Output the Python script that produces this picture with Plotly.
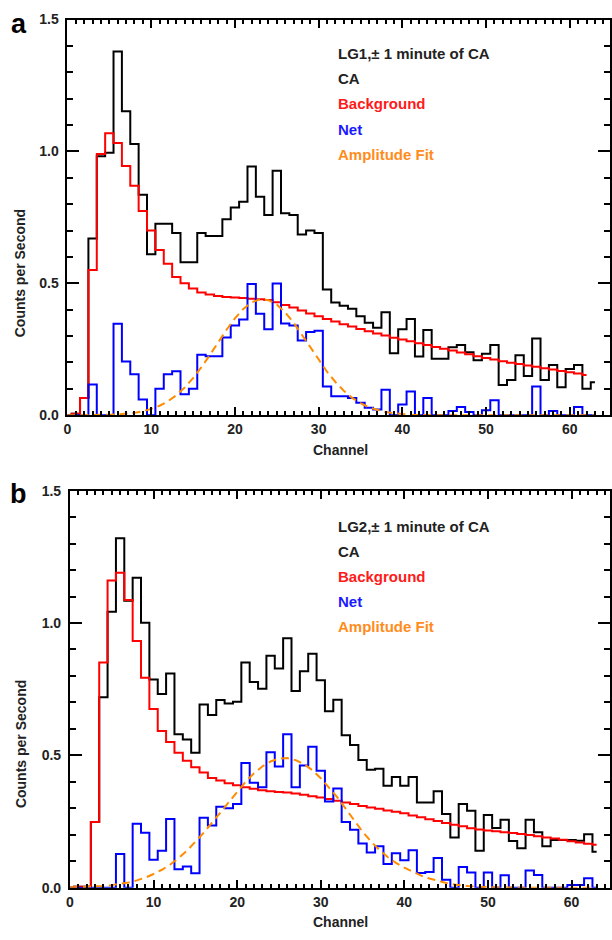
import plotly.graph_objects as go

W, H = 612, 940

channels = list(range(64))

# ---------------- Panel a (LG1) ----------------
ca_a = [0.0, 0.006, 0.065, 0.67, 0.982, 0.995, 1.379, 1.152, 1.028, 0.836,
        0.61, 0.726, 0.726, 0.691, 0.58, 0.58, 0.691, 0.679, 0.679, 0.743,
        0.787, 0.809, 0.943, 0.828, 0.759, 0.927, 0.766, 0.759, 0.685, 0.70,
        0.691, 0.477, 0.427, 0.415, 0.404, 0.375, 0.351, 0.332, 0.39, 0.235,
        0.326, 0.365, 0.223, 0.323, 0.214, 0.214, 0.258, 0.266, 0.239, 0.208,
        0.233, 0.266, 0.115, 0.134, 0.227, 0.149, 0.291, 0.134, 0.19, 0.106,
        0.175, 0.19, 0.10, 0.125]
bg_a = [0.0, 0.006, 0.065, 0.551, 0.99, 1.069, 1.032, 0.945, 0.87, 0.774,
        0.70, 0.626, 0.574, 0.524, 0.50, 0.48, 0.465, 0.458, 0.452, 0.448,
        0.446, 0.444, 0.442, 0.44, 0.437, 0.428, 0.418, 0.408, 0.397, 0.386,
        0.375, 0.365, 0.355, 0.345, 0.336, 0.327, 0.318, 0.31, 0.302, 0.294,
        0.287, 0.28, 0.273, 0.266, 0.259, 0.252, 0.245, 0.238, 0.231, 0.224,
        0.217, 0.211, 0.205, 0.199, 0.194, 0.189, 0.184, 0.178, 0.173, 0.168,
        0.163, 0.158, 0.153]
net_a = [0, 0, 0, 0.117, 0, 0, 0.347, 0.204, 0.155, 0.06,
         0, 0.10, 0.155, 0.167, 0.08, 0.10, 0.229, 0.224, 0.224, 0.295,
         0.34, 0.363, 0.497, 0.385, 0.326, 0.499, 0.348, 0.34, 0.283, 0.316,
         0.32, 0.109, 0.072, 0.072, 0.065, 0.047, 0.028, 0.022, 0.097, 0,
         0.041, 0.09, 0, 0.065, 0, 0, 0.016, 0.031, 0.012, 0,
         0.019, 0.057, 0, 0, 0, 0, 0.109, 0, 0.016, 0,
         0, 0.031, 0, 0]
fit_a = [0, 0, 0, 0, 0.001, 0.002, 0.003, 0.005, 0.009, 0.015,
         0.024, 0.036, 0.053, 0.076, 0.105, 0.141, 0.182, 0.228, 0.277, 0.324,
         0.367, 0.403, 0.428, 0.44, 0.436, 0.42, 0.39, 0.351, 0.305, 0.257,
         0.21, 0.165, 0.126, 0.093, 0.066, 0.046, 0.03, 0.02, 0.012, 0.008,
         0.004, 0.002, 0.001, 0, 0, 0, 0, 0, 0, 0,
         0, 0, 0, 0, 0, 0, 0, 0, 0, 0,
         0, 0, 0, 0]

# ---------------- Panel b (LG2) ----------------
ca_b = [0.0, 0.004, 0.004, 0.248, 0.72, 1.043, 1.32, 1.084, 1.171, 1.001,
        0.787, 0.732, 0.809, 0.58, 0.56, 0.51, 0.692, 0.653, 0.709, 0.696,
        0.703, 0.851, 0.777, 0.752, 0.876, 0.828, 0.942, 0.743, 0.818, 0.884,
        0.784, 0.667, 0.71, 0.576, 0.539, 0.483, 0.446, 0.45, 0.385, 0.418,
        0.385, 0.418, 0.322, 0.322, 0.365, 0.279, 0.19, 0.316, 0.291, 0.14,
        0.275, 0.226, 0.257, 0.177, 0.149, 0.257, 0.21, 0.157, 0.18, 0.18,
        0.18, 0.178, 0.202, 0.136]
bg_b = [0.0, 0.004, 0.004, 0.248, 0.851, 1.161, 1.19, 1.087, 0.932, 0.793,
        0.675, 0.592, 0.551, 0.51, 0.48, 0.455, 0.435, 0.415, 0.405, 0.395,
        0.387, 0.38, 0.374, 0.368, 0.365, 0.362, 0.36, 0.356, 0.351, 0.346,
        0.341, 0.335, 0.329, 0.322, 0.316, 0.309, 0.303, 0.298, 0.292, 0.287,
        0.281, 0.273, 0.266, 0.259, 0.252, 0.245, 0.238, 0.232, 0.225, 0.22,
        0.216, 0.213, 0.21, 0.207, 0.203, 0.199, 0.195, 0.19, 0.186, 0.181,
        0.176, 0.171, 0.166, 0.162]
net_b = [0, 0, 0, 0, 0, 0, 0.128, 0, 0.242, 0.208,
         0.106, 0.14, 0.26, 0.07, 0.08, 0.055, 0.264, 0.235, 0.306, 0.30,
         0.316, 0.471, 0.397, 0.38, 0.512, 0.458, 0.58, 0.38, 0.462, 0.533,
         0.442, 0.326, 0.375, 0.248, 0.219, 0.167, 0.133, 0.157, 0.09, 0.13,
         0.104, 0.142, 0.056, 0.06, 0.112, 0.03, 0, 0.078, 0.058, 0,
         0.058, 0, 0.047, 0, 0, 0.065, 0.048, 0, 0, 0,
         0.01, 0.01, 0.036, 0]
fit_b = [0.001, 0.002, 0.003, 0.004, 0.007, 0.010, 0.014, 0.020, 0.028, 0.038,
         0.052, 0.068, 0.088, 0.112, 0.140, 0.172, 0.208, 0.246, 0.285, 0.325,
         0.364, 0.400, 0.432, 0.458, 0.477, 0.488, 0.490, 0.482, 0.467, 0.444,
         0.414, 0.379, 0.341, 0.298, 0.255, 0.212, 0.175, 0.143, 0.116, 0.094,
         0.076, 0.060, 0.046, 0.035, 0.026, 0.018, 0.012, 0.008, 0.005, 0.003,
         0.002, 0.001, 0.001, 0, 0, 0, 0, 0, 0, 0,
         0, 0, 0, 0]

y_ticks = [0.0, 0.5, 1.0, 1.5]
x_ticks = [0, 10, 20, 30, 40, 50, 60]
legend_a = ["LG1,\u00b1 1 minute of CA", "CA", "Background", "Net", "Amplitude Fit"]
legend_b = ["LG2,\u00b1 1 minute of CA", "CA", "Background", "Net", "Amplitude Fit"]
legend_colors = ["#222222", "#222222", "#ff1a1a", "#1a1aff", "#ff8c1a"]

FONT = "Liberation Sans"
C_CA, C_BG, C_NET, C_FIT = "black", "#ff0000", "#0000ff", "#ff8c00"


def px(x):
    return x / W


def py(y):
    return 1 - y / H


fig = go.Figure()


def add_panel(ca, bg, net, fit, xa, ya):
    fig.add_trace(go.Scatter(x=channels[:len(ca)], y=ca, mode="lines", line_shape="hvh",
                             line=dict(color=C_CA, width=2), xaxis=xa, yaxis=ya))
    fig.add_trace(go.Scatter(x=channels[:len(bg)], y=bg, mode="lines", line_shape="hvh",
                             line=dict(color=C_BG, width=2), xaxis=xa, yaxis=ya))
    fig.add_trace(go.Scatter(x=channels[:len(net)], y=net, mode="lines", line_shape="hvh",
                             line=dict(color=C_NET, width=2), xaxis=xa, yaxis=ya))
    fig.add_trace(go.Scatter(x=channels[:len(fit)], y=fit, mode="lines",
                             line=dict(color=C_FIT, width=2, dash="8px,5px"),
                             xaxis=xa, yaxis=ya))


add_panel(ca_a, bg_a, net_a, fit_a, "x", "y")
add_panel(ca_b, bg_b, net_b, fit_b, "x2", "y2")

tickfont = dict(family=FONT, size=14, color="#222222", weight="bold")


def xaxis(domain, rng, anchor):
    return dict(domain=domain, range=rng, anchor=anchor, showline=True, linecolor="black",
                linewidth=2, mirror="allticks", ticks="inside", ticklen=8, tickwidth=2,
                tickcolor="black", tickvals=x_ticks, ticktext=[str(v) for v in x_ticks],
                tickfont=tickfont, showgrid=False, zeroline=False,
                minor=dict(ticks="inside", ticklen=4, tickwidth=1.5, tickcolor="black",
                           dtick=1, tick0=0, showgrid=False))


def yaxis(domain, anchor):
    return dict(domain=domain, range=[0, 1.5], anchor=anchor, showline=True, linecolor="black",
                linewidth=2, mirror="allticks", ticks="inside", ticklen=12, tickwidth=2,
                tickcolor="black", tickvals=y_ticks, ticktext=["%.1f" % v for v in y_ticks],
                tickfont=tickfont, showgrid=False, zeroline=False, ticklabelstandoff=4,
                minor=dict(ticks="inside", ticklen=6, tickwidth=1.5, tickcolor="black",
                           dtick=0.1, tick0=0, showgrid=False))


annotations = []


def text(x, y, s, size=14, color="#222222", xanchor="center", angle=0):
    annotations.append(dict(x=px(x), y=py(y), xref="paper", yref="paper", text=s,
                            showarrow=False, xanchor=xanchor, yanchor="middle",
                            textangle=angle,
                            font=dict(family=FONT, size=size, color=color, weight="bold")))


# panel letters
text(15, 16, "a", size=27, color="black")
text(15, 494, "b", size=27, color="black")
# axis titles
text(17, 270, "Counts per Second", size=14, angle=-90)
text(17, 749, "Counts per Second", size=14, angle=-90)
text(339, 450, "Channel", size=14)
text(339, 930, "Channel", size=14)
# legends
for i, (s, c) in enumerate(zip(legend_a, legend_colors)):
    text(335, 46 + 25.8 * i, s, size=15, color=c, xanchor="left")
for i, (s, c) in enumerate(zip(legend_b, legend_colors)):
    text(335, 527 + 25.6 * i, s, size=15, color=c, xanchor="left")

fig.update_layout(
    width=W, height=H,
    margin=dict(l=0, r=0, t=0, b=0),
    paper_bgcolor="white", plot_bgcolor="white",
    showlegend=False,
    xaxis=xaxis([px(64), px(611)], [0, 64.8], "y"),
    yaxis=yaxis([py(414.3), py(11.7)], "x"),
    xaxis2=xaxis([px(66.5), px(611)], [0, 64.6], "y2"),
    yaxis2=yaxis([py(895), py(491)], "x2"),
    annotations=annotations,
)

fig.write_html("out.html")
